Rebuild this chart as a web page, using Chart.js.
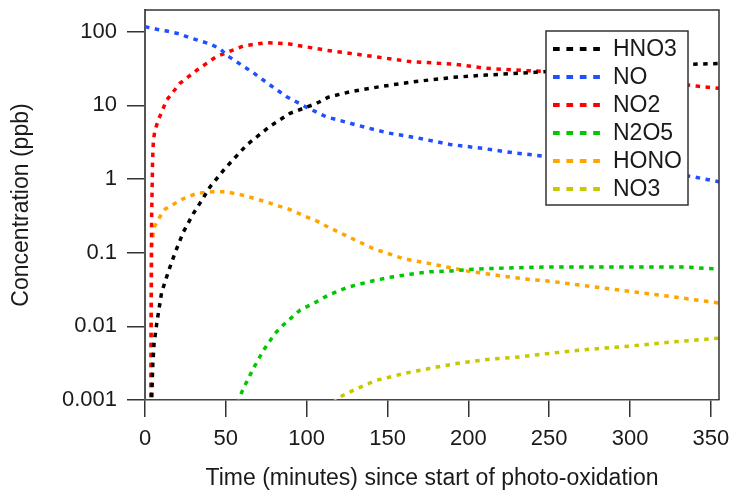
<!DOCTYPE html>
<html><head><meta charset="utf-8">
<script src="https://cdn.jsdelivr.net/npm/chart.js@4/dist/chart.umd.min.js"></script>
<style>html,body{margin:0;padding:0;background:#fff}#wrap{width:734px;height:492px}</style>
</head><body><div id="wrap"><canvas id="c" width="734" height="492"></canvas></div>
<script>
const seriesNames = ['HNO3','NO','NO2','N2O5','HONO','NO3'];
const seriesColors = ['#000000','#1f4fff','#ff0000','#00c800','#ffa500','#c8c800'];

const hno3Time = [4.0,4.8,5.6,7.2,10.3,14.4,18.6,23.7,29.9,34,40.2,49.5,62.9,77.3,89.7,106,113.4,126.8,145,166,190.7,211,237,270,300,336,355];
const hno3Ppb  = [0.0008,0.003,0.0058,0.0107,0.029,0.055,0.1,0.19,0.34,0.47,0.78,1.39,2.9,5.2,7.8,10.6,12.9,15.3,17.9,20.9,24,25.8,27.7,31,33.5,36,37];

const noTime = [0,7.2,13.4,21.6,26.8,39,46.4,50.5,56.7,67,77.3,87.6,100,112,131,149.5,170,188.6,209,227.8,246,275,300,339,355];
const noPpb  = [117,108,102,93,84,69.5,59,48,39,27.7,18.9,13.1,9.4,7.0,5.4,4.25,3.56,2.95,2.6,2.27,2.05,1.75,1.5,1.07,0.92];

const no2Time = [3.6,4.1,4.7,5.2,6.2,8.2,13.4,21.6,32,44,60.8,75,87.6,112,139,165,190.7,211,237,248,300,341,355];
const no2Ppb  = [0.0008,0.3,1.8,3.4,4.6,6.3,11.8,19.9,30,45.7,64,71,69,56,46.8,39,36.4,31.8,29.5,29,23,18.3,17];

const n2o5Time = [57,60.8,67,73.2,80.4,85.5,95.9,106,113.4,124.7,138,150.5,164,176,189.7,203,221.6,248,300,335,347,355];
const n2o5Ppb  = [0.0009,0.00143,0.00267,0.0047,0.008,0.0104,0.0166,0.0215,0.0265,0.0336,0.04,0.046,0.051,0.055,0.0566,0.0597,0.0617,0.064,0.064,0.064,0.061,0.0605];

const honoTime = [3.6,4.0,5.6,9.3,12.4,23.7,32,42,50.5,60.8,75,81,87.6,98,106,112,123.7,141,159.7,174,186.6,199,218.5,238,250.5,265,290.7,310,329.8,354.5];
const honoPpb  = [0.0008,0.12,0.22,0.31,0.39,0.54,0.64,0.67,0.67,0.6,0.49,0.44,0.4,0.32,0.27,0.23,0.173,0.114,0.083,0.0726,0.064,0.0566,0.049,0.0432,0.041,0.0373,0.0316,0.0279,0.0246,0.0208];

const no3Time = [117,118.5,124.7,131,143,161.8,180.4,194.8,213,232,246,273,300,325,351.5,355];
const no3Ppb  = [0.0009,0.00105,0.00122,0.00143,0.00185,0.00233,0.0028,0.00318,0.00357,0.00384,0.0042,0.00484,0.0054,0.0061,0.0068,0.0069];

const xTickValues = [0,50,100,150,200,250,300,350];
const yTickValues = [0.001,0.01,0.1,1,10,100];
const yTickLabels = ['0.001','0.01','0.1','1','10','100'];
const xTitle = 'Time (minutes) since start of photo-oxidation';
const yTitle = 'Concentration (ppb)';

const seriesTimes = [hno3Time,noTime,no2Time,n2o5Time,honoTime,no3Time];
const seriesValues = [hno3Ppb,noPpb,no2Ppb,n2o5Ppb,honoPpb,no3Ppb];

const FONT = 'Arial, "Liberation Sans", sans-serif';
const TXT = '#1a1a1a';

const datasets = seriesNames.map((name,i)=>({
  label: name,
  data: seriesTimes[i].map((t,j)=>({x:t,y:seriesValues[i][j]})),
  borderColor: seriesColors[i],
  backgroundColor: seriesColors[i],
  borderWidth: 3.5,
  borderDash: [4.5,5.5],
  borderCapStyle: 'butt',
  pointRadius: 0,
  tension: 0,
  fill: false,
  clip: 0
}));

const framePlugin = {
  id: 'frameLegend',
  afterDatasetsDraw(chart){
    const {ctx, chartArea:a} = chart;
    ctx.save();
    ctx.strokeStyle = '#333';
    ctx.lineWidth = 1.5;
    ctx.beginPath();
    ctx.moveTo(a.left, a.top);
    ctx.lineTo(a.right, a.top);
    ctx.lineTo(a.right, a.bottom);
    ctx.stroke();
    // legend box
    const bx = a.left + 401, by = a.top + 21, bw = 142, bh = 174;
    ctx.fillStyle = '#fff';
    ctx.fillRect(bx, by, bw, bh);
    ctx.strokeStyle = '#333';
    ctx.lineWidth = 1.5;
    ctx.strokeRect(bx, by, bw, bh);
    ctx.font = '23px ' + FONT;
    ctx.textBaseline = 'middle';
    ctx.textAlign = 'left';
    chart.data.datasets.forEach((ds,i)=>{
      const yy = by + 18 + i*28;
      ctx.strokeStyle = ds.borderColor;
      ctx.lineWidth = 4;
      ctx.setLineDash([6.7,6.7]);
      ctx.beginPath();
      ctx.moveTo(bx + 7, yy);
      ctx.lineTo(bx + 55, yy);
      ctx.stroke();
      ctx.setLineDash([]);
      ctx.fillStyle = TXT;
      ctx.fillText(ds.label, bx + 67, yy + 1);
    });
    ctx.restore();
  }
};

new Chart(document.getElementById('c'), {
  type: 'line',
  data: { datasets },
  plugins: [framePlugin],
  options: {
    responsive: false,
    devicePixelRatio: 1,
    animation: false,
    layout: { padding: { top: 10, right: 15, left: 0, bottom: 0 } },
    plugins: { legend: { display: false }, tooltip: { enabled: false } },
    scales: {
      x: {
        type: 'linear', min: 0, max: 355,
        afterBuildTicks(s){ s.ticks = xTickValues.map(v=>({value:v})); },
        afterFit(s){ s.height = 92; s.paddingLeft = 0; s.paddingRight = 0; },
        ticks: { font: { size: 22, family: FONT }, color: TXT, padding: 9, maxRotation: 0, autoSkip: false },
        grid: { drawOnChartArea: false, drawTicks: true, tickLength: 17, color: '#333', lineWidth: 1.5 },
        border: { display: true, color: '#444', width: 1.5 },
        title: { display: true, text: xTitle, font: { size: 23, family: FONT }, color: TXT, padding: { top: 0, bottom: 0 } }
      },
      y: {
        type: 'logarithmic', min: 0.001, max: 197,
        afterBuildTicks(s){ s.ticks = yTickValues.map(v=>({value:v})); },
        afterFit(s){ s.width = 145; s.paddingTop = 0; s.paddingBottom = 0; },
        ticks: { font: { size: 22, family: FONT }, color: TXT, padding: 10, autoSkip: false,
          callback(v, i){ return yTickLabels[i]; } },
        grid: { drawOnChartArea: false, drawTicks: true, tickLength: 18, color: '#333', lineWidth: 1.5 },
        border: { display: true, color: '#555', width: 2 },
        title: { display: true, text: yTitle, font: { size: 23, family: FONT }, color: TXT, padding: { top: 8, bottom: 0 } }
      }
    }
  }
});
</script></body></html>
